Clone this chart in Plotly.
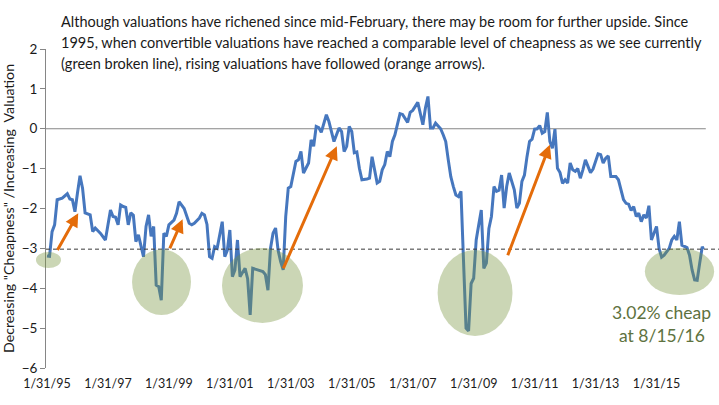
import pandas as pd
import plotly.graph_objects as go

# convertible valuation index, month offsets counted from 1/31/95 (month-end readings)
month_offset = [
    0, 1, 2, 3, 4, 6, 8, 9, 10, 11, 12, 13, 14, 15, 17, 18, 19, 21, 23,
    24, 25, 26, 27, 28, 29, 30, 31, 32, 33, 34, 35, 36, 37, 38, 39, 40, 41, 42, 43, 44, 45, 46, 47,
    48, 50, 51, 52, 53, 54, 56, 57, 58, 60, 61, 62, 63, 64, 65, 66, 67, 69, 70, 71,
    72, 73, 74, 75, 76, 78, 79, 80, 81, 83, 85, 86, 87, 88, 89, 90, 91, 92, 93, 94, 95,
    96, 97, 98, 99, 100, 101, 102, 103, 104, 105, 106, 107, 108, 110, 111, 112, 113, 115, 116, 117, 118, 119,
    120, 121, 122, 123, 124, 126, 127, 128, 129, 130, 131, 132, 133, 134, 135, 136, 137, 138, 139, 140, 142, 143,
    144, 146, 147, 148, 149, 150, 151, 152, 153, 155, 156, 157, 158, 159, 160, 161, 162, 163, 164, 165, 166, 167,
    168, 169, 170, 171, 172, 173, 174, 175, 176, 177, 178, 179, 180, 181, 182, 183, 184, 185, 186, 187, 188, 189, 190, 191,
    192, 193, 194, 195, 196, 197, 198, 199, 200, 201, 202, 203, 204, 205, 206, 207, 208, 209, 210, 211, 212, 214, 215,
    217, 218, 219, 220, 221, 222, 224, 225, 227, 228, 229, 230, 231, 232, 233, 234, 235, 236, 237, 238, 239,
    240, 241, 242, 243, 245, 246, 247, 248, 249, 250, 251, 252, 253, 254, 255, 256, 257, 258,
]
valuation = [
    -3.19, -3.2, -2.58, -2.41, -1.78, -1.74, -1.63, -1.76, -1.78, -2.08, -1.61, -1.18, -1.49, -2.11, -2.16, -2.58, -2.49, -2.62, -2.79,
    -2.41, -2.04, -2.2, -2.22, -2.41, -1.91, -1.95, -1.97, -2.41, -2.11, -2.17, -2.83, -2.66, -2.9, -3.21, -2.45, -2.16, -2.7, -2.45, -3.92, -3.96, -4.3, -2.62, -2.7,
    -2.41, -2.29, -2.12, -1.83, -1.93, -2.0, -2.37, -2.41, -2.37, -2.24, -2.12, -2.16, -2.4, -3.21, -3.25, -2.96, -3.0, -2.33, -3.21, -3.05,
    -2.54, -3.71, -3.54, -2.79, -3.71, -3.5, -3.76, -4.67, -3.5, -3.54, -3.58, -3.66, -4.05, -3.0, -2.62, -2.49, -3.05, -3.33, -3.54, -2.2, -1.49,
    -1.45, -1.1, -0.82, -0.78, -0.57, -1.11, -0.98, -0.86, -0.28, -0.44, 0.06, 0.03, -0.09, 0.35, 0.18, -0.07, -0.32, 0.02, -0.07, -0.57, -0.44, 0.06,
    -0.07, -0.6, -0.58, -0.99, -1.28, -1.26, -1.24, -0.7, -0.99, -1.36, -1.32, -1.03, -0.9, -0.57, -0.7, -0.32, -0.15, 0.14, 0.38, 0.36, 0.16, 0.41,
    0.46, 0.66, 0.41, 0.1, 0.52, 0.81, 0.02, 0.02, 0.14, 0.0, -0.15, -0.32, -0.78, -1.2, -1.45, -1.66, -1.7, -1.57, -3.3, -5.0, -5.07, -3.88,
    -3.75, -2.79, -2.41, -2.04, -3.5, -3.37, -2.5, -2.2, -1.45, -1.57, -1.54, -1.16, -1.99, -1.45, -1.11, -1.32, -1.53, -1.99, -1.87, -1.32, -1.16, -0.7, -0.32, -0.26,
    -0.01, 0.0, 0.08, -0.11, -0.07, 0.41, -0.32, -0.49, -0.01, -0.99, -1.1, -1.37, -1.28, -1.36, -0.86, -1.03, -1.07, -1.0, -1.24, -1.03, -0.78, -1.1, -1.01,
    -0.63, -0.65, -0.86, -0.74, -0.68, -1.2, -1.2, -1.28, -1.78, -1.87, -1.89, -2.05, -1.95, -2.2, -2.12, -2.33, -2.16, -2.24, -1.93, -2.79, -2.62,
    -2.45, -3.0, -3.22, -3.17, -3.0, -2.79, -2.7, -2.79, -2.33, -2.92, -2.96, -2.98, -3.17, -3.54, -3.79, -3.8, -3.37, -2.96,
]
last_date = "2016-08-15"
last_value = -3.02
cheap_level = -3.02

tick_labels = ["1/31/95", "1/31/97", "1/31/99", "1/31/01", "1/31/03", "1/31/05",
               "1/31/07", "1/31/09", "1/31/11", "1/31/13", "1/31/15"]

START = pd.Timestamp("1995-01-31")


def months_since_start(ts):
    ts = pd.Timestamp(ts)
    return (ts.year - START.year) * 12 + (ts.month - START.month) + (ts.day - ts.days_in_month) / ts.days_in_month


# x axis in months after 1/31/95
xs = list(month_offset) + [months_since_start(last_date)]
ys = valuation + [last_value]
tickvals = [months_since_start(d) for d in pd.to_datetime(tick_labels, format="%m/%d/%y")]
hover_dates = [(START + pd.offsets.MonthEnd(m)).strftime("%m/%d/%y") for m in month_offset] + ["08/15/16"]

BLUE = "#4677BE"
ORANGE = "#E46C0A"
GREEN = "#76923C"
FONT = "Lato"

fig = go.Figure()
fig.add_trace(go.Scatter(x=xs, y=ys, mode="lines", customdata=hover_dates,
                         line=dict(color=BLUE, width=3),
                         hovertemplate="%{customdata}: %{y:.2f}<extra></extra>",
                         showlegend=False))

x_lo, x_hi = -0.39, 264.6

shapes = [
    dict(type="line", xref="x", yref="y", x0=x_lo, x1=259.4, y0=0, y1=0,
         line=dict(color="#868686", width=1), layer="below"),
    dict(type="line", xref="x", yref="y", x0=x_lo, x1=x_hi, y0=cheap_level, y1=cheap_level,
         line=dict(color="#3a3a3a", width=1, dash="4px,3px")),
    # cheap episodes (green circles)
    dict(type="circle", xref="paper", yref="paper", x0=-0.0149, x1=0.0223, y0=0.3135, y1=0.3636,
         fillcolor=GREEN, opacity=0.38, line_width=0),
]
for (m0, m1, y0, y1) in [(33.5, 56.7, -4.67, -3.02), (68.9, 100.8, -4.87, -2.99),
                         (153.8, 183.3, -5.2, -3.04), (235.4, 262.7, -4.17, -2.99)]:
    shapes.append(dict(type="circle", xref="x", yref="y", x0=m0, x1=m1, y0=y0, y1=y1,
                       fillcolor=GREEN, opacity=0.38, line_width=0, layer="above"))

annotations = []
# orange arrows: (tail month, tail value, head month, head value)
for (tm, tv, hm, hv) in [(3.8, -3.08, 12.3, -2.12), (48.1, -3.04, 53.4, -2.27),
                         (92.8, -3.54, 114.1, -0.44), (181.2, -3.21, 198.0, -0.40)]:
    annotations.append(dict(x=hm, y=hv, ax=tm, ay=tv, xref="x", yref="y",
                            axref="x", ayref="y", text="", showarrow=True,
                            arrowhead=2, arrowsize=0.9, arrowwidth=3, arrowcolor=ORANGE,
                            standoff=0, startstandoff=0))

note = ["Although valuations have richened since mid-February, there may be room for further upside. Since",
        "1995, when convertible valuations have reached a comparable level of cheapness as we see currently",
        "(green broken line), rising valuations have followed (orange arrows)."]
for i, line in enumerate(note):
    annotations.append(dict(xref="paper", yref="paper", x=(59 - 46) / 673, y=(368 - 21.7 - 21 * i) / 319,
                            xanchor="left", yanchor="middle", text=line, showarrow=False,
                            font=dict(family=FONT, size=14.5, color="#1a1a1a")))

for i, line in enumerate(["3.02% cheap", "at 8/15/16"]):
    annotations.append(dict(xref="paper", yref="paper", x=(661.5 - 46) / 673, y=(368 - 312.7 - 22.3 * i) / 319,
                            xanchor="center", yanchor="middle", text=line, showarrow=False,
                            font=dict(family=FONT, size=17.5, color="#5E7240")))

fig.update_layout(
    width=719, height=405,
    margin=dict(l=46, r=0, t=49, b=37),
    paper_bgcolor="white", plot_bgcolor="white",
    font=dict(family=FONT, size=13, color="#1a1a1a"),
    shapes=shapes, annotations=annotations,
    xaxis=dict(range=[x_lo, x_hi], tickmode="array", tickvals=tickvals, ticktext=tick_labels,
               tickangle=0, showgrid=False, zeroline=False, showline=False, ticks="outside",
               ticklen=4, tickcolor="white", tickfont=dict(size=12.5)),
    yaxis=dict(range=[-6, 2], dtick=1, showgrid=False, zeroline=False, showline=True,
               linecolor="#868686", ticks="outside", ticklen=5, tickcolor="#868686",
               tickfont=dict(size=13.5), automargin=False,
               title=dict(text='Decreasing "Cheapness" /Increasing\u00a0 Valuation',
                          font=dict(size=14.2), standoff=9)),
)

fig.write_html("out.html", config={"displayModeBar": False},
               post_script="document.body.style.margin='0';")
